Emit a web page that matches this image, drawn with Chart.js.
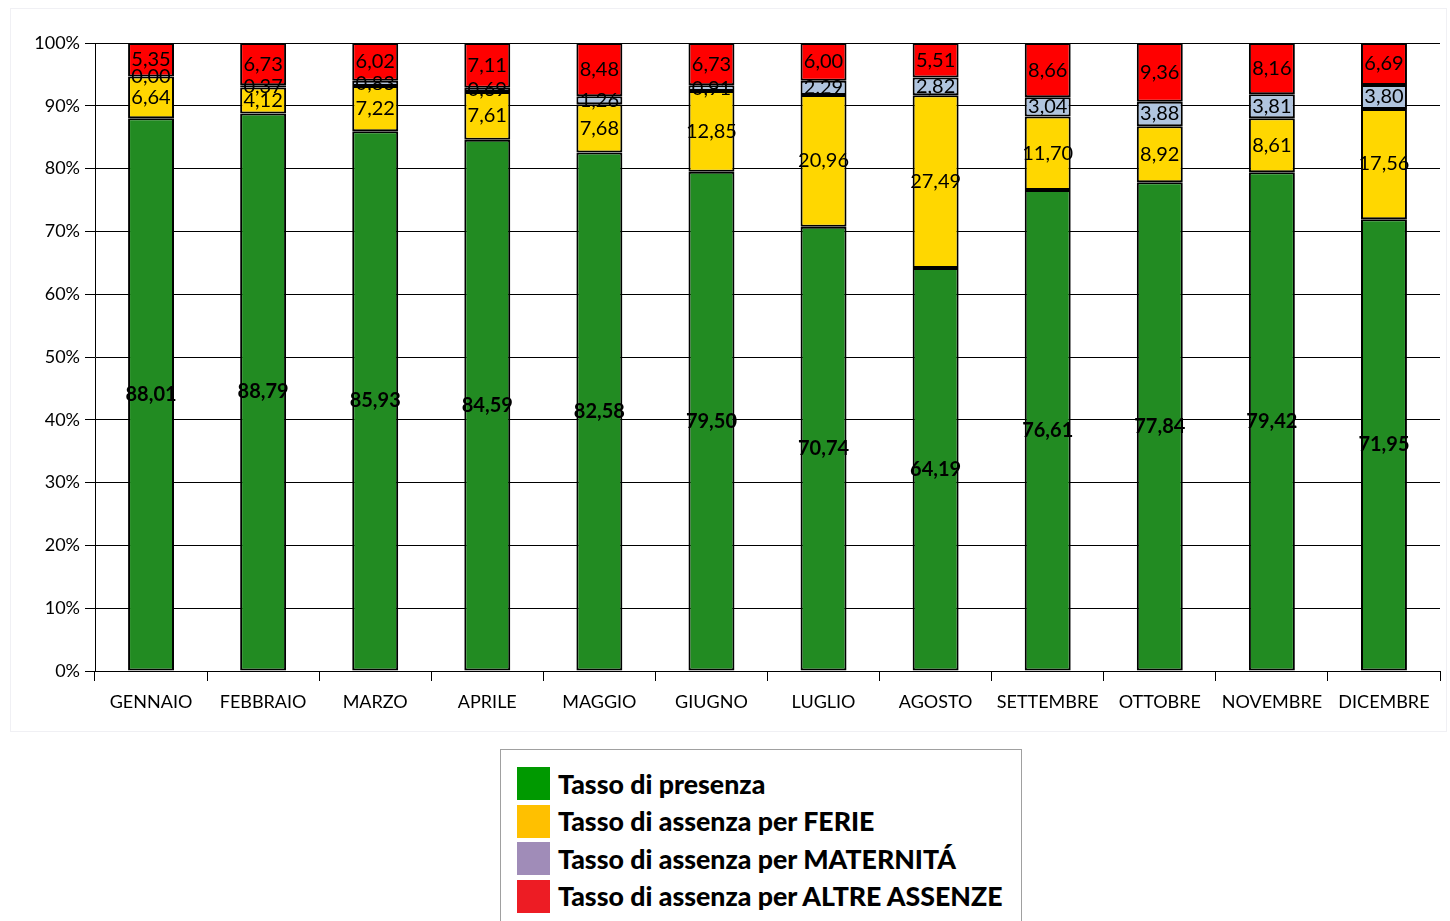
<!DOCTYPE html>
<html>
<head>
<meta charset="utf-8">
<script src="https://cdn.jsdelivr.net/npm/chart.js@4.4.1/dist/chart.umd.min.js"></script>
<style>
  body { margin: 0; background: #fff; font-family: Lato, sans-serif; }
  #wrap { position: absolute; left: 10px; top: 8px; width: 1437px; height: 724px; border: 1px solid #f0f0f4; box-sizing: border-box; }
  #legend { position: absolute; left: 500px; top: 749px; width: 522px; height: 180px; border: 1px solid #a0a0a0; box-sizing: border-box; padding-top: 15px; }
  .item { display: flex; align-items: center; height: 37.5px; padding-left: 16px; font-weight: 900; font-size: 26.7px; color: #000; }
  .sw { width: 33px; height: 33px; margin-right: 8px; }
</style>
</head>
<body>
<div id="wrap"><canvas id="barChart"></canvas></div>
<div id="legend"></div>
<script>
const mesi = ['GENNAIO', 'FEBBRAIO', 'MARZO', 'APRILE', 'MAGGIO', 'GIUGNO', 'LUGLIO', 'AGOSTO', 'SETTEMBRE', 'OTTOBRE', 'NOVEMBRE', 'DICEMBRE'];
const presenza = [88.01, 88.79, 85.93, 84.59, 82.58, 79.50, 70.74, 64.19, 76.61, 77.84, 79.42, 71.95];
const ferie = [6.64, 4.12, 7.22, 7.61, 7.68, 12.85, 20.96, 27.49, 11.70, 8.92, 8.61, 17.56];
const maternita = [0.00, 0.37, 0.83, 0.69, 1.26, 0.91, 2.29, 2.82, 3.04, 3.88, 3.81, 3.80];
const altre = [5.35, 6.73, 6.02, 7.11, 8.48, 6.73, 6.00, 5.51, 8.66, 9.36, 8.16, 6.69];

const serie = ['Tasso di presenza', 'Tasso di assenza per FERIE', 'Tasso di assenza per MATERNITÁ', 'Tasso di assenza per ALTRE ASSENZE'];
const coloriBarre = ['#228B22', '#FFD700', '#B0C4DE', '#FF0000'];
const coloriLegenda = ['#009900', '#FFC000', '#A08CB8', '#ED1C24'];

// legenda in html, sotto al grafico
const legend = document.getElementById('legend');
serie.forEach((s, i) => {
    legend.innerHTML += '<div class="item"><div class="sw" style="background:' + coloriLegenda[i] + '"></div>' + s + '</div>';
});

// etichette dei valori al centro di ogni segmento
const valori = {
    id: 'valori',
    afterDatasetsDraw(chart) {
        const ctx = chart.ctx;
        ctx.save();
        ctx.textAlign = 'center';
        ctx.textBaseline = 'middle';
        ctx.fillStyle = '#000';
        chart.data.datasets.forEach((ds, i) => {
            ctx.font = (i === 0 ? 'bold ' : '') + '20px Lato';
            chart.getDatasetMeta(i).data.forEach((bar, j) => {
                const y = (bar.y + bar.base) / 2;
                ctx.fillText(ds.data[j].toFixed(2).replace('.', ','), bar.x, y);
            });
        });
        ctx.restore();
    }
};

const barChart = document.getElementById('barChart');

new Chart(barChart, {
    type: 'bar',
    data: {
        labels: mesi,
        datasets: [presenza, ferie, maternita, altre].map((d, i) => ({
            label: serie[i],
            data: d,
            backgroundColor: coloriBarre[i],
            borderColor: '#000',
            borderWidth: 2,
            borderSkipped: false,
            barPercentage: 0.41,
            categoryPercentage: 1
        }))
    },
    options: {
        responsive: true,
        maintainAspectRatio: false,
        animation: false,
        layout: { padding: { top: 34, right: 6, left: 0, bottom: 0 } },
        plugins: {
            legend: { display: false },
            tooltip: { enabled: false }
        },
        scales: {
            x: {
                stacked: true,
                grid: { offset: true, drawOnChartArea: false, tickLength: 10, color: '#000' },
                border: { color: '#000' },
                ticks: { color: '#000', font: { family: 'Lato', size: 18 }, padding: 10, maxRotation: 0 },
                afterFit: s => { s.height = 60; }
            },
            y: {
                stacked: true,
                min: 0,
                max: 100,
                grid: { color: '#000', tickLength: 10 },
                border: { color: '#000' },
                ticks: { stepSize: 10, color: '#000', font: { family: 'Lato', size: 18 }, padding: 5, callback: v => v + '%' },
                afterFit: s => { s.width = 84; }
            }
        }
    },
    plugins: [valori]
});
</script>
</body>
</html>
